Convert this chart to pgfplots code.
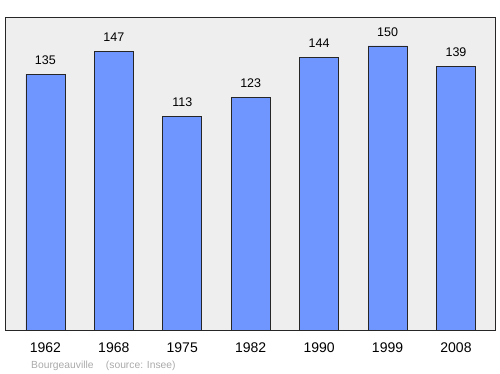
\documentclass[border=0pt]{standalone}
\usepackage{pgfplots}
\pgfplotsset{compat=1.18}
\usepackage{fontspec}
\setmainfont{Liberation Sans}
\definecolor{barblue}{RGB}{111,150,255}
\definecolor{bg}{RGB}{238,238,238}
\definecolor{foot}{RGB}{170,170,170}
\begin{document}
\begin{tikzpicture}[x=1pt,y=1pt]
\path[use as bounding box] (0,0) rectangle (500,374);
\begin{axis}[
  at={(5pt,44pt)}, anchor=south west,
  scale only axis, width=490pt, height=313pt,
  ymin=0, ymax=165.3,
  xmin=-0.59, xmax=6.57,
  axis background/.style={fill=bg},
  axis line style={draw=black!85, line width=0.9pt},
  ytick=\empty,
  xtick={0,...,6},
  xticklabels={1962,1968,1975,1982,1990,1999,2008},
  major tick length=0pt,
  xticklabel style={font=\fontsize{14}{16}\selectfont, yshift=-9pt},
  /pgf/number format/assume math mode=true,
  ybar, bar width=39pt,
  nodes near coords,
  every node near coord/.append style={font=\fontsize{12.5}{14}\selectfont, yshift=6pt, text=black},
  axis on top=false,
]
\addplot[fill=barblue, draw=black!85, line width=0.7pt, bar shift=0pt] coordinates {
(0,135) (1,147) (2,113) (3,123) (4,144) (5,150) (6,139)};
\end{axis}
\node[anchor=west, text=foot, font=\fontsize{10.3}{12}\selectfont, inner sep=0pt] at (31,8) {Bourgeauville\hspace{1.2em}(source: Insee)};
\end{tikzpicture}
\end{document}
